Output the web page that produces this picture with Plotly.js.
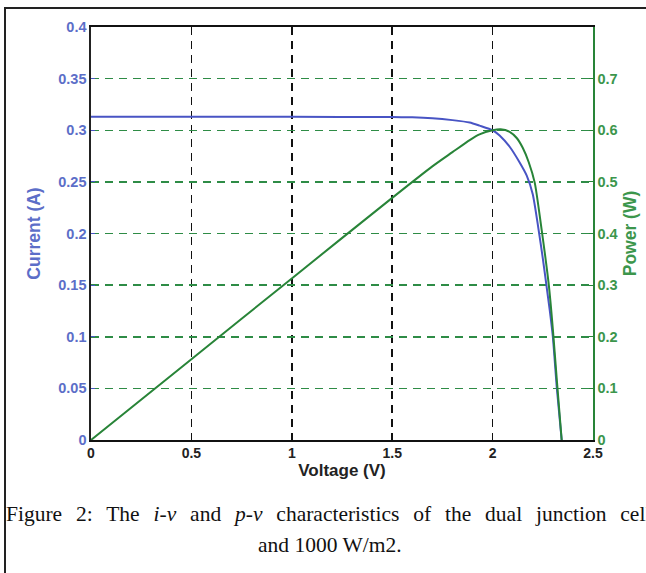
<!DOCTYPE html>
<html>
<head>
<meta charset="utf-8">
<script src="https://cdn.plot.ly/plotly-3.0.1.min.js"></script>
<style>
  html, body { margin: 0; padding: 0; background: #fff; overflow: hidden; }
  #wrap { position: relative; width: 646px; height: 573px; }
  #frame { position: absolute; left: 4px; top: 7px; width: 720px; height: 700px;
           border-top: 2px solid #222; border-left: 2px solid #222; box-sizing: border-box; pointer-events: none; }
  #chart { position: absolute; left: 0; top: 0; width: 646px; height: 573px; }
  /* first caption line is justified in the source document: wider word gaps */
  #chart g.annotation[data-index="0"] text { word-spacing: 8.5px; }
</style>
</head>
<body>
<div id="wrap">
  <div id="chart"></div>
  <div id="frame"></div>
</div>
<script>
// Current (I-V) curve
const voltageIV = [0, 0.5, 1.0, 1.5, 1.6, 1.7, 1.8, 1.886, 1.935, 2.0, 2.035, 2.085, 2.134, 2.17, 2.2, 2.228, 2.25, 2.268, 2.285, 2.30, 2.32, 2.344];
const currentA  = [0.313, 0.313, 0.313, 0.3128, 0.3125, 0.3116, 0.3098, 0.3075, 0.3045, 0.300, 0.295, 0.284, 0.269, 0.256, 0.238, 0.205, 0.176, 0.150, 0.125, 0.100, 0.050, 0.0];

// Power (P-V) curve
const voltagePV = [0, 0.5, 1.0, 1.5, 1.7, 1.8, 1.886, 1.935, 2.0, 2.04, 2.085, 2.12, 2.15, 2.18, 2.21, 2.245, 2.28, 2.30, 2.32, 2.344];
const powerW    = [0, 0.1565, 0.313, 0.469, 0.530, 0.5575, 0.581, 0.592, 0.600, 0.602, 0.597, 0.585, 0.566, 0.538, 0.498, 0.405, 0.300, 0.215, 0.115, 0.0];

const xTicks = [0, 0.5, 1, 1.5, 2, 2.5];
const xTickText = ['0', '0.5', '1', '1.5', '2', '2.5'];
const currentTicks = [0, 0.05, 0.1, 0.15, 0.2, 0.25, 0.3, 0.35, 0.4];
const currentTickText = ['0', '0.05', '0.1', '0.15', '0.2', '0.25', '0.3', '0.35', '0.4'];
const powerTicks = [0, 0.1, 0.2, 0.3, 0.4, 0.5, 0.6, 0.7];
const powerTickText = ['0', '0.1', '0.2', '0.3', '0.4', '0.5', '0.6', '0.7'];

const BLUE = 'rgb(72,84,196)';
const BLUE_TXT = 'rgb(92,110,200)';
const GREEN = 'rgb(40,132,56)';
const GREEN_GRID = 'rgb(46,140,70)';
const GREEN_TXT = 'rgb(60,150,76)';
const SANS = 'Liberation Sans, Arial, sans-serif';
const SERIF = 'Liberation Serif, Times New Roman, serif';

const traces = [
  { x: voltageIV, y: currentA, type: 'scatter', mode: 'lines', yaxis: 'y',
    line: { color: BLUE, width: 2, shape: 'spline', smoothing: 0.6 }, hoverinfo: 'skip', showlegend: false },
  { x: voltagePV, y: powerW, type: 'scatter', mode: 'lines', yaxis: 'y2',
    line: { color: GREEN, width: 2, shape: 'spline', smoothing: 0.6 }, hoverinfo: 'skip', showlegend: false }
];

// plot area in px: left 91, right 593, top 27, bottom 440
const L = 91, R = 593, T = 27, B = 440;
const px2x = p => (p - L) / (R - L);
const px2y = p => (B - p) / (B - T);

const layout = {
  width: 646, height: 573,
  margin: { l: L, r: 646 - R, t: T, b: 573 - B, pad: 0 },
  paper_bgcolor: 'rgba(0,0,0,0)', plot_bgcolor: '#fff',
  showlegend: false,
  font: { family: SANS },
  xaxis: {
    range: [0, 2.5], tickvals: xTicks, ticktext: xTickText,
    showgrid: true, gridcolor: '#111', griddash: '8px,6px', gridwidth: 1.5,
    zeroline: false, showline: true, linecolor: '#111', linewidth: 1.6, mirror: true,
    ticks: 'inside', ticklen: 4, tickcolor: '#111',
    tickfont: { size: 14, color: '#222', weight: 'bold' },
    title: { text: 'Voltage (V)', font: { size: 17, color: '#222', weight: 'bold' }, standoff: 2 },
    automargin: false
  },
  yaxis: {
    range: [0, 0.4], tickvals: currentTicks, ticktext: currentTickText,
    showgrid: false, zeroline: false, showline: true, linecolor: '#222', linewidth: 1.6,
    ticks: 'inside', ticklen: 4, tickcolor: BLUE,
    tickfont: { size: 14.5, color: BLUE_TXT, weight: 'bold' },
    title: { text: 'Current (A)', font: { size: 17.5, color: BLUE_TXT, weight: 'bold' }, standoff: 13 },
    automargin: false
  },
  yaxis2: {
    range: [0, 0.8], tickvals: powerTicks, ticktext: powerTickText,
    overlaying: 'y', side: 'right',
    showgrid: true, gridcolor: GREEN_GRID, griddash: '8px,6px', gridwidth: 1.5,
    zeroline: false, showline: true, linecolor: GREEN, linewidth: 1.6,
    ticks: 'inside', ticklen: 4, tickcolor: GREEN,
    tickfont: { size: 14.5, color: GREEN_TXT, weight: 'bold' },
    title: { text: 'Power (W)', font: { size: 17.5, color: GREEN_TXT, weight: 'bold' }, standoff: 7 },
    automargin: false
  },
  annotations: [
    { xref: 'paper', yref: 'paper', x: px2x(4), y: px2y(514), xanchor: 'left', yanchor: 'middle',
      showarrow: false, align: 'left',
      text: 'Figure 2: The <i>i-v</i> and <i>p-v</i> characteristics of the dual junction cell',
      font: { family: SERIF, size: 21.5, color: '#111' } },
    { xref: 'paper', yref: 'paper', x: px2x(330), y: px2y(545), xanchor: 'center', yanchor: 'middle',
      showarrow: false, text: 'and 1000 W/m2.',
      font: { family: SERIF, size: 21.5, color: '#111' } }
  ]
};

Plotly.newPlot('chart', traces, layout, { displayModeBar: false, staticPlot: true });
</script>
</body>
</html>
